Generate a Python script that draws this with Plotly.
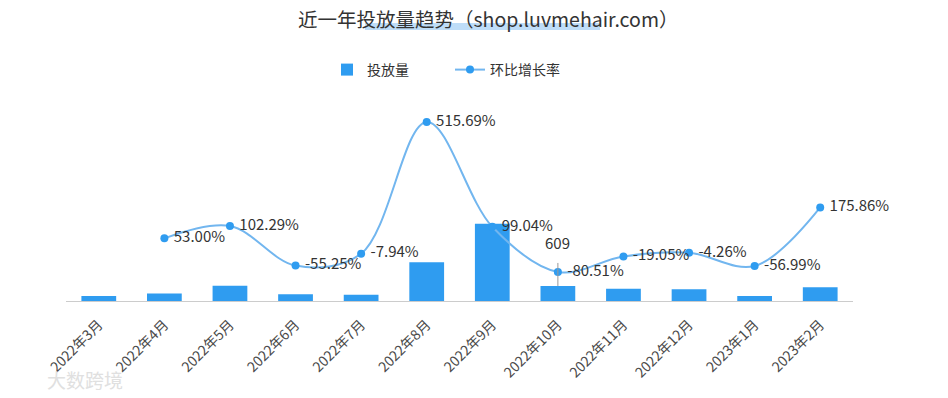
import plotly.graph_objects as go

months = ["2022年3月", "2022年4月", "2022年5月", "2022年6月", "2022年7月", "2022年8月",
          "2022年9月", "2022年10月", "2022年11月", "2022年12月", "2023年1月", "2023年2月"]
volume = [200, 306, 619, 277, 255, 1570, 3125, 609, 493, 472, 203, 560]
growth = [None, 53.00, 102.29, -55.25, -7.94, 515.69, 99.04, -80.51, -19.05, -4.26, -56.99, 175.86]
highlight_month = "2022年10月"

FONT = "Noto Sans CJK SC, Noto Sans, sans-serif"
BAR_C = "#2f9cf0"
LINE_C = "#72b6ef"

L, R, T, B = 66, 95, 100, 97
PW, PH = 948 - L - R, 398 - T - B


def px_x(px):
    return (px - L) / PW


def px_y(py):
    return (398 - B - py) / PH


fig = go.Figure()
fig.add_trace(go.Bar(
    x=months, y=volume, name="投放量", marker=dict(color=BAR_C, line=dict(width=0)),
    yaxis="y",
))
fig.add_trace(go.Scatter(
    x=months, y=growth, name="环比增长率", mode="lines+markers+text",
    line=dict(color=LINE_C, width=2, shape="spline", smoothing=1.0),
    marker=dict(color=BAR_C, size=8),
    text=[("" if g is None else f" {g:.2f}%") for g in growth],
    textposition="middle right",
    textfont=dict(size=15, color="#333333", family=FONT),
    yaxis="y2", connectgaps=False, cliponaxis=False,
))

hi = months.index(highlight_month)
annotations = [
    dict(x=months[hi], y=volume[hi], xref="x", yref="y", text=str(volume[hi]),
         showarrow=True, arrowhead=0, arrowwidth=1, arrowcolor="#999999",
         ax=0, ay=-43, startstandoff=8,
         font=dict(size=15, color="#333333", family=FONT)),
    dict(x=px_x(85), y=px_y(379), xref="paper", yref="paper", text="大数跨境",
         xanchor="center", yanchor="middle",
         showarrow=False, font=dict(size=19, color="#e0e0e0", family=FONT)),
]

fig.update_layout(
    width=948, height=398,
    margin=dict(l=L, r=R, t=T, b=B, autoexpand=False),
    paper_bgcolor="white", plot_bgcolor="white",
    font=dict(family=FONT, color="#333333"),
    title=dict(text="近一年投放量趋势（shop.luvmehair.com）", x=0.515, xanchor="center",
               y=1 - 20 / 398, yanchor="middle",
               font=dict(size=19.5, color="#333333", family=FONT)),
    legend=dict(orientation="h", xref="container", yref="container",
                x=327 / 948, xanchor="left", y=1 - 70 / 398, yanchor="middle",
                font=dict(size=14, color="#333333", family=FONT),
                itemwidth=30, traceorder="normal", entrywidth=78, entrywidthmode="pixels"),
    bargap=0.47,
    xaxis=dict(showline=True, linecolor="#cccccc", linewidth=1, showgrid=False,
               ticks="", tickangle=-45, tickfont=dict(size=14, color="#4a4a4a", family=FONT),
               ticklabelstandoff=9,
               zeroline=False, automargin=False, range=[-0.5, len(months) - 0.5]),
    yaxis=dict(range=[0, 8140], visible=False, showgrid=False, automargin=False),
    yaxis2=dict(range=[-196, 603], overlaying="y", side="right", visible=False,
                showgrid=False, automargin=False),
    annotations=annotations,
    shapes=[dict(type="rect", xref="paper", yref="paper",
                 x0=px_x(365), x1=px_x(600), y0=px_y(30), y1=px_y(23),
                 fillcolor="rgba(110,180,240,0.45)", line=dict(width=0), layer="below")],
    showlegend=True,
)

fig.write_html("out.html", config={"displayModeBar": False},
               post_script="document.body.style.margin='0px';")
